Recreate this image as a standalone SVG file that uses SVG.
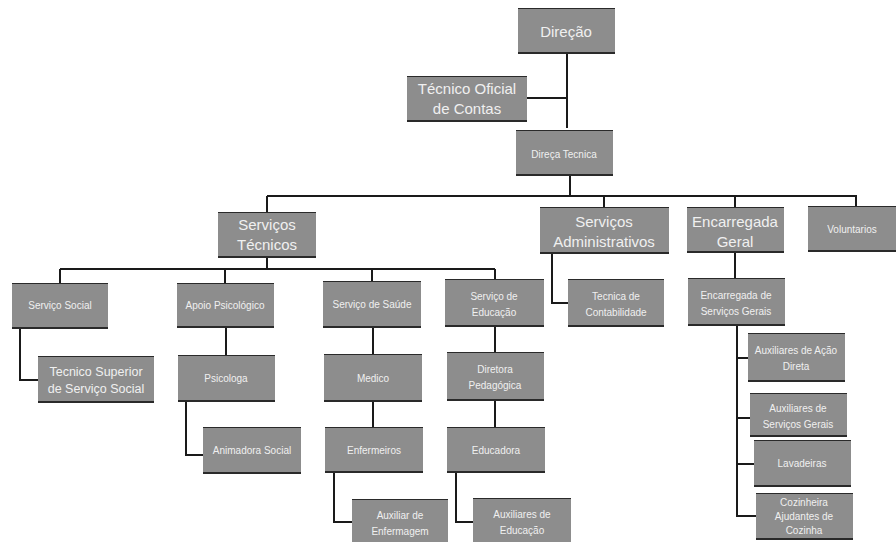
<svg xmlns="http://www.w3.org/2000/svg" width="896" height="542" viewBox="0 0 896 542">
<style>
.bx{fill:#8d8d8d}
.edge{stroke:#2a2a2a;fill:none}
.t{font-family:"Liberation Sans",Arial,sans-serif;fill:#f0f0f0;text-anchor:middle}
.b{font-size:15px}
.s{font-size:10px}
.m{font-size:12.5px}
.c{stroke:#1a1a1a;stroke-width:2;fill:none}
</style>
<rect width="896" height="542" fill="#ffffff"/>
<g id="connectors">
<path class="c" d="M567,54 V128 M527,98 H567"/>
<path class="c" d="M570,176 V195 M267,196 H857 M267,196 V212 M604,195 V207 M735,195 V207 M856,195 V206"/>
<path class="c" d="M267,258 V269 M60,269 H495 M60,269 V283 M225,269 V283 M372,269 V281 M495,269 V279"/>
<path class="c" d="M20,329 V380 H38"/>
<path class="c" d="M226,328 V355 M186,402 V455 H203"/>
<path class="c" d="M373,328 V354 M373,402 V427 M334,473 V522 H352"/>
<path class="c" d="M495,327 V352 M495,401 V427 M456,473 V522 H473"/>
<path class="c" d="M552,254 V303 H568"/>
<path class="c" d="M735,253 V278 M737,326 V516 H756 M737,358 H748 M737,418 H750 M737,464 H754"/>
</g>
<g id="n-direcao"><rect class="bx" x="518" y="8" width="97" height="46"/><path class="edge" stroke-width="1" d="M518,8.5 H615"/><path class="edge" stroke-width="2" d="M518,53 H615"/><text class="t b" x="566" y="37">Direção</text></g>
<g id="n-toc"><rect class="bx" x="407" y="76" width="120" height="46"/><path class="edge" stroke-width="1" d="M407,76.5 H527"/><path class="edge" stroke-width="2" d="M407,121 H527"/><text class="t b" x="467" y="94">Técnico Oficial</text><text class="t b" x="467" y="114">de Contas</text></g>
<g id="n-dirtec"><rect class="bx" x="516" y="130" width="97" height="46"/><path class="edge" stroke-width="1" d="M516,130.5 H613"/><path class="edge" stroke-width="2" d="M516,175 H613"/><text class="t s" x="564" y="158">Direça Tecnica</text></g>
<g id="n-servtec"><rect class="bx" x="218" y="212" width="98" height="46"/><path class="edge" stroke-width="1" d="M218,212.5 H316"/><path class="edge" stroke-width="2" d="M218,257 H316"/><text class="t b" x="267" y="230">Serviços</text><text class="t b" x="267" y="250">Técnicos</text></g>
<g id="n-servadm"><rect class="bx" x="540" y="207" width="129" height="47"/><path class="edge" stroke-width="1" d="M540,207.5 H669"/><path class="edge" stroke-width="2" d="M540,253 H669"/><text class="t b" x="604" y="227">Serviços</text><text class="t b" x="604" y="247">Administrativos</text></g>
<g id="n-encger"><rect class="bx" x="687" y="207" width="97" height="46"/><path class="edge" stroke-width="1" d="M687,207.5 H784"/><path class="edge" stroke-width="2" d="M687,252 H784"/><text class="t b" x="735" y="227">Encarregada</text><text class="t b" x="735" y="247">Geral</text></g>
<g id="n-volunt"><rect class="bx" x="808" y="206" width="88" height="46"/><path class="edge" stroke-width="1" d="M808,206.5 H896"/><path class="edge" stroke-width="2" d="M808,251 H896"/><text class="t s" x="852" y="233">Voluntarios</text></g>
<g id="n-servsoc"><rect class="bx" x="12" y="283" width="96" height="46"/><path class="edge" stroke-width="1" d="M12,283.5 H108"/><path class="edge" stroke-width="2" d="M12,328 H108"/><text class="t s" x="60" y="309">Serviço Social</text></g>
<g id="n-apoio"><rect class="bx" x="177" y="283" width="97" height="45"/><path class="edge" stroke-width="1" d="M177,283.5 H274"/><path class="edge" stroke-width="2" d="M177,327 H274"/><text class="t s" x="225" y="309">Apoio Psicológico</text></g>
<g id="n-saude"><rect class="bx" x="323" y="281" width="98" height="47"/><path class="edge" stroke-width="1" d="M323,281.5 H421"/><path class="edge" stroke-width="2" d="M323,327 H421"/><text class="t s" x="372" y="308">Serviço de Saúde</text></g>
<g id="n-educ"><rect class="bx" x="445" y="279" width="99" height="48"/><path class="edge" stroke-width="1" d="M445,279.5 H544"/><path class="edge" stroke-width="2" d="M445,326 H544"/><text class="t s" x="494" y="300">Serviço de</text><text class="t s" x="494" y="316">Educação</text></g>
<g id="n-tcont"><rect class="bx" x="568" y="279" width="96" height="48"/><path class="edge" stroke-width="1" d="M568,279.5 H664"/><path class="edge" stroke-width="2" d="M568,326 H664"/><text class="t s" x="616" y="300">Tecnica de</text><text class="t s" x="616" y="316">Contabilidade</text></g>
<g id="n-encsg"><rect class="bx" x="688" y="278" width="97" height="48"/><path class="edge" stroke-width="1" d="M688,278.5 H785"/><path class="edge" stroke-width="2" d="M688,325 H785"/><text class="t s" x="736" y="299">Encarregada de</text><text class="t s" x="736" y="315">Serviços Gerais</text></g>
<g id="n-tsss"><rect class="bx" x="38" y="356" width="116" height="47"/><path class="edge" stroke-width="1" d="M38,356.5 H154"/><path class="edge" stroke-width="2" d="M38,402 H154"/><text class="t m" x="96" y="376">Tecnico Superior</text><text class="t m" x="96" y="393">de Serviço Social</text></g>
<g id="n-psic"><rect class="bx" x="178" y="355" width="97" height="47"/><path class="edge" stroke-width="1" d="M178,355.5 H275"/><path class="edge" stroke-width="2" d="M178,401 H275"/><text class="t s" x="226" y="382">Psicologa</text></g>
<g id="n-anim"><rect class="bx" x="203" y="427" width="98" height="47"/><path class="edge" stroke-width="1" d="M203,427.5 H301"/><path class="edge" stroke-width="2" d="M203,473 H301"/><text class="t s" x="252" y="454">Animadora Social</text></g>
<g id="n-medico"><rect class="bx" x="324" y="354" width="98" height="48"/><path class="edge" stroke-width="1" d="M324,354.5 H422"/><path class="edge" stroke-width="2" d="M324,401 H422"/><text class="t s" x="373" y="382">Medico</text></g>
<g id="n-enf"><rect class="bx" x="325" y="427" width="98" height="46"/><path class="edge" stroke-width="1" d="M325,427.5 H423"/><path class="edge" stroke-width="2" d="M325,472 H423"/><text class="t s" x="374" y="454">Enfermeiros</text></g>
<g id="n-auxenf"><rect class="bx" x="352" y="499" width="96" height="43"/><path class="edge" stroke-width="1" d="M352,499.5 H448"/><text class="t s" x="400" y="519">Auxiliar de</text><text class="t s" x="400" y="535">Enfermagem</text></g>
<g id="n-dirped"><rect class="bx" x="447" y="352" width="97" height="49"/><path class="edge" stroke-width="1" d="M447,352.5 H544"/><path class="edge" stroke-width="2" d="M447,400 H544"/><text class="t s" x="495" y="373">Diretora</text><text class="t s" x="495" y="389">Pedagógica</text></g>
<g id="n-educadora"><rect class="bx" x="447" y="427" width="98" height="46"/><path class="edge" stroke-width="1" d="M447,427.5 H545"/><path class="edge" stroke-width="2" d="M447,472 H545"/><text class="t s" x="496" y="454">Educadora</text></g>
<g id="n-auxeduc"><rect class="bx" x="473" y="498" width="98" height="44"/><path class="edge" stroke-width="1" d="M473,498.5 H571"/><text class="t s" x="522" y="518">Auxiliares de</text><text class="t s" x="522" y="534">Educação</text></g>
<g id="n-aad"><rect class="bx" x="748" y="333" width="97" height="49"/><path class="edge" stroke-width="1" d="M748,333.5 H845"/><path class="edge" stroke-width="2" d="M748,381 H845"/><text class="t s" x="796" y="354">Auxiliares de Ação</text><text class="t s" x="796" y="370">Direta</text></g>
<g id="n-asg"><rect class="bx" x="750" y="393" width="97" height="44"/><path class="edge" stroke-width="1" d="M750,393.5 H847"/><path class="edge" stroke-width="2" d="M750,436 H847"/><text class="t s" x="798" y="412">Auxiliares de</text><text class="t s" x="798" y="428">Serviços Gerais</text></g>
<g id="n-lav"><rect class="bx" x="754" y="440" width="97" height="47"/><path class="edge" stroke-width="1" d="M754,440.5 H851"/><path class="edge" stroke-width="2" d="M754,486 H851"/><text class="t s" x="802" y="467">Lavadeiras</text></g>
<g id="n-coz"><rect class="bx" x="756" y="493" width="97" height="47"/><path class="edge" stroke-width="1" d="M756,493.5 H853"/><path class="edge" stroke-width="2" d="M756,539 H853"/><text class="t s" x="804" y="506">Cozinheira</text><text class="t s" x="804" y="520">Ajudantes de</text><text class="t s" x="804" y="534">Cozinha</text></g>
</svg>
